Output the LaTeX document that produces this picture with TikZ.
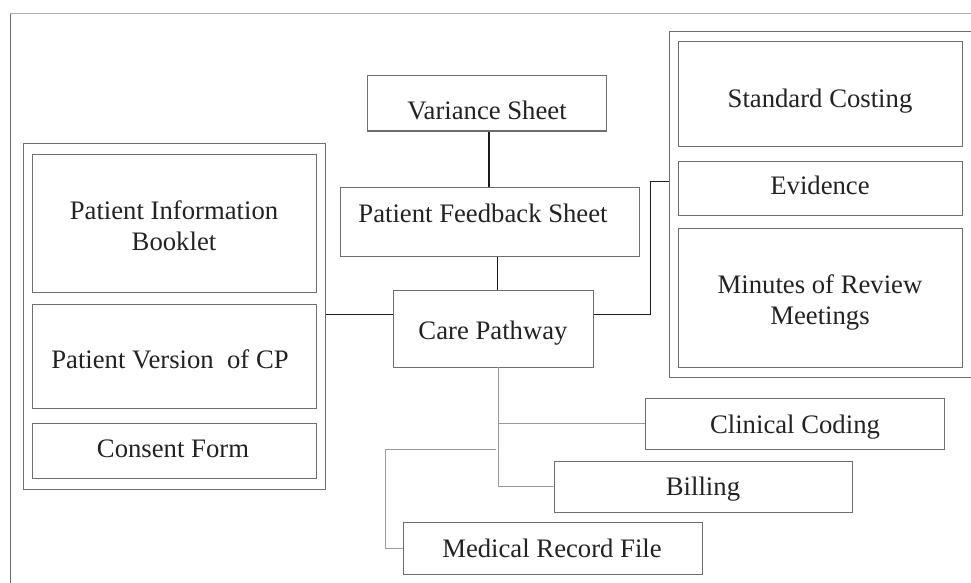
\documentclass[tikz,border=0pt]{standalone}
\usepackage{fontspec}
\setmainfont{Liberation Serif}
\usetikzlibrary{calc}
\definecolor{boxgray}{HTML}{6E6E6E}
\definecolor{lightgray}{HTML}{9A9A9A}
\definecolor{framegray}{HTML}{B0B0B0}
\definecolor{linkdark}{HTML}{1A1A1A}
\definecolor{inkcol}{HTML}{222222}
\begin{document}
\begin{tikzpicture}[x=1pt,y=-1pt,
  box/.style={draw=boxgray,line width=1pt,inner sep=0pt,minimum width=#1},
  lbl/.style={anchor=base,inner sep=0pt,text=inkcol,align=center,
    font=\fontsize{26.7}{31}\selectfont},
  link/.style={draw=linkdark,line width=1pt},
  thinlink/.style={draw=lightgray,line width=1pt}]
\useasboundingbox (0,0) rectangle (971,583);

% page frame
\draw[framegray,line width=1pt] (10,14) -- (975,14);
\draw[boxgray,line width=1pt] (10,14) -- (10,590);

% left group: patient documents
\node[box=302,minimum height=346] (leftgrp) at (174,316) {};
\node[box=284,minimum height=138] (pib) at (174,223) {};
\node[box=284,minimum height=104] (pvc) at (174,356) {};
\node[box=284,minimum height=55] (cf) at (174,450.5) {};
\node[lbl] (pibt) at (174,250) {Patient Information\\Booklet};
\node[lbl] (pvct) at (170,368) {Patient Version \ of CP};
\node[lbl] (cft) at (173,457) {Consent Form};

% centre column
\node[box=239,minimum height=55] (var) at (486.5,103.5) {};
\node[box=299,minimum height=69] (pfs) at (489.5,221.5) {};
\node[box=200,minimum height=77] (care) at (493,328.5) {};
\node[lbl] (vart) at (487,120) {Variance Sheet};
\node[lbl] (pfst) at (483,222) {Patient Feedback Sheet};
\node[lbl] (caret) at (493,339) {Care Pathway};

% right group: review documents
\node[box=316,minimum height=345] (rightgrp) at (827,204.5) {};
\node[box=284,minimum height=104] (sc) at (820,94) {};
\node[box=284,minimum height=54] (ev) at (820,188) {};
\node[box=284,minimum height=139] (mrm) at (820,297.5) {};
\node[lbl] (sct) at (820,107) {Standard Costing};
\node[lbl] (evt) at (820,194) {Evidence};
\node[lbl] (mrmt) at (820,324) {Minutes of Review\\Meetings};

% lower branches
\node[box=299,minimum height=51] (cc) at (794.5,423.5) {};
\node[box=298,minimum height=51] (bill) at (703,486.5) {};
\node[box=299,minimum height=52] (mrf) at (552.5,548) {};
\node[lbl] (cct) at (795,433) {Clinical Coding};
\node[lbl] (billt) at (703,495) {Billing};
\node[lbl] (mrft) at (552,557) {Medical Record File};

% connectors
\draw[link,line width=1.6pt] ([xshift=2.5pt]var.south) -- ([xshift=2.5pt]var.south |- pfs.north);
\draw[link] ([xshift=4pt]care.north) -- ([xshift=4pt]care.north |- pfs.south);
\draw[link] ([yshift=14.5pt]care.west) -- ([yshift=14.5pt]care.west -| leftgrp.east);
\coordinate (rbend) at (650,181);
\draw[link] ([yshift=14.5pt]care.east) -| (rbend) -- (rbend -| rightgrp.west);

\coordinate (trunk) at (498,367);
\draw[thinlink] (trunk) -- (trunk |- bill.west) -- (bill.west);
\draw[thinlink] (trunk |- cc.west) -- (cc.west);
\coordinate (mbend) at (385,449);
\draw[thinlink] (496,449) -- (mbend) |- (mrf.west);
\end{tikzpicture}
\end{document}
